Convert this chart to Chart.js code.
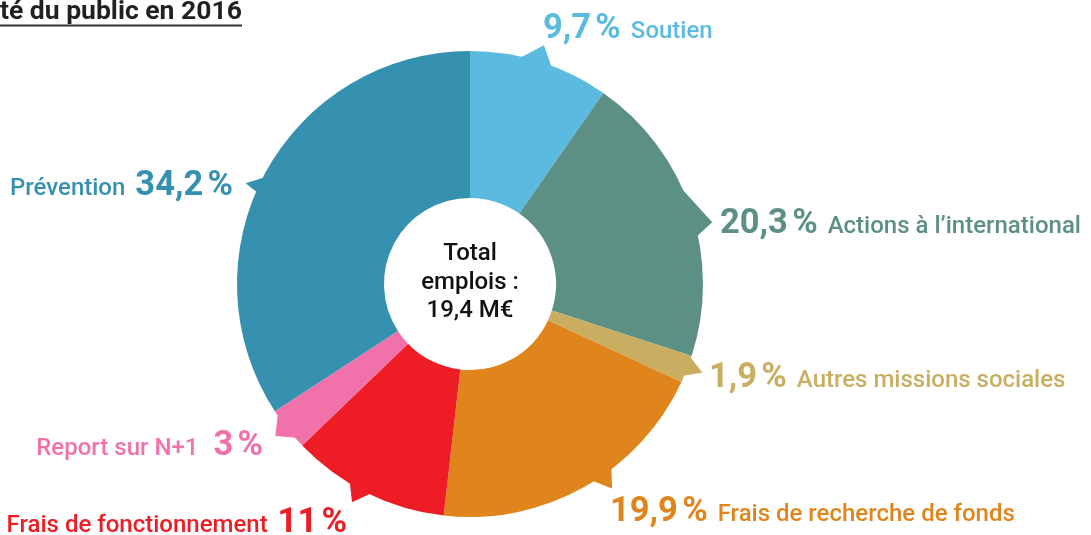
<!DOCTYPE html>
<html>
<head>
<meta charset="utf-8">
<script src="https://cdn.jsdelivr.net/npm/chart.js@4"></script>
<style>
  html, body { margin: 0; padding: 0; background: #ffffff; }
  #wrap { width: 1091px; height: 535px; position: relative; }
</style>
</head>
<body>
<div id="wrap"><canvas id="c" width="1091" height="535"></canvas></div>
<script>
// ---- Data ----
const categories = ['Soutien', 'Actions à l’international', 'Autres missions sociales', 'Frais de recherche de fonds', 'Frais de fonctionnement', 'Report sur N+1', 'Prévention'];
const values = [9.7, 20.3, 1.9, 19.9, 11, 3, 34.2];
const centerLines = ['Total', 'emplois :', '19,4 M€'];
const titleText = 'té du public en 2016';

// ---- Styles / layout (not data) ----
const colors = ['#5bbae0', '#5d9084', '#c9ae62', '#e0841c', '#ee1d25', '#f172aa', '#3690b0'];
// pointer: [baseStartDeg, baseEndDeg, tipDeg, tipLength] clockwise from top
const pointers = [
  [12, 21, 17.2, 17],
  [64, 78.4, 75.7, 17],
  [108, 113.6, 110.9, 16],
  [142.1, 148.5, 145.2, 16],
  [205, 211.6, 208.4, 15],
  [228, 236.5, 232, 14],
  [293.2, 297.8, 294.2, 13]
];
// label anchor: x, baseline y, side ('L' = percent first, left aligned; 'R' = name first, right aligned), gap
const labelLayout = [
  { x: 543, y: 38, side: 'L', gap: 10 },
  { x: 720, y: 233, side: 'L', gap: 10 },
  { x: 709, y: 387, side: 'L', gap: 10 },
  { x: 610, y: 521, side: 'L', gap: 10 },
  { x: 347, y: 532, side: 'R', gap: 10 },
  { x: 263, y: 455, side: 'R', gap: 15 },
  { x: 233, y: 195, side: 'R', gap: 10 }
];

const FONT = 'Roboto, "Liberation Sans", sans-serif';
const NAME_FONT = '500 24px ' + FONT;
const PCT_FONT = 'bold 34.5px ' + FONT;
const fmtPct = v => String(v).replace('.', ',') + '\u202F%';

const pointerPlugin = {
  id: 'pointers',
  beforeDatasetsDraw(chart) {
    const ctx = chart.ctx;
    const arcs = chart.getDatasetMeta(0).data;
    arcs.forEach((arc, i) => {
      const p = pointers[i];
      if (!p) return;
      const R = arc.outerRadius;
      const toRad = d => (d - 90) * Math.PI / 180;
      ctx.save();
      ctx.fillStyle = colors[i];
      ctx.beginPath();
      ctx.moveTo(arc.x + (R - 3) * Math.cos(toRad(p[0])), arc.y + (R - 3) * Math.sin(toRad(p[0])));
      ctx.lineTo(arc.x + (R + p[3]) * Math.cos(toRad(p[2])), arc.y + (R + p[3]) * Math.sin(toRad(p[2])));
      ctx.lineTo(arc.x + (R - 3) * Math.cos(toRad(p[1])), arc.y + (R - 3) * Math.sin(toRad(p[1])));
      ctx.closePath();
      ctx.fill();
      ctx.restore();
    });
  }
};

const textPlugin = {
  id: 'texts',
  afterDraw(chart) {
    const ctx = chart.ctx;
    ctx.save();
    // Title
    ctx.font = 'bold 26.5px ' + FONT;
    ctx.fillStyle = '#231f20';
    ctx.textAlign = 'left';
    ctx.textBaseline = 'alphabetic';
    ctx.fillText(titleText, 0, 19);
    ctx.strokeStyle = '#333333';
    ctx.lineWidth = 2;
    ctx.beginPath();
    ctx.moveTo(0, 25.5);
    ctx.lineTo(242, 25.5);
    ctx.stroke();

    // Center text
    const arc = chart.getDatasetMeta(0).data[0];
    ctx.font = '500 24px ' + FONT;
    ctx.fillStyle = '#111111';
    ctx.textAlign = 'center';
    const lineH = 28.5;
    centerLines.forEach((t, k) => {
      ctx.fillText(t, arc.x, 260 + k * lineH);
    });

    // Slice labels
    categories.forEach((name, i) => {
      const L = labelLayout[i];
      const pct = fmtPct(values[i]);
      ctx.fillStyle = colors[i];
      ctx.textAlign = 'left';
      ctx.font = PCT_FONT;
      const pw = ctx.measureText(pct).width;
      ctx.font = NAME_FONT;
      const nw = ctx.measureText(name).width;
      let px, nx;
      if (L.side === 'L') {
        px = L.x; nx = L.x + pw + L.gap;
      } else {
        px = L.x - pw; nx = px - L.gap - nw;
      }
      ctx.font = PCT_FONT;
      ctx.fillText(pct, px, L.y);
      ctx.font = NAME_FONT;
      ctx.fillText(name, nx, L.y);
    });
    ctx.restore();
  }
};

new Chart(document.getElementById('c'), {
  type: 'doughnut',
  data: {
    labels: categories,
    datasets: [{
      data: values,
      backgroundColor: colors,
      borderWidth: 0,
      hoverOffset: 0
    }]
  },
  options: {
    responsive: false,
    animation: false,
    events: [],
    cutout: 86,
    layout: { padding: { left: 237, right: 388, top: 51, bottom: 18 } },
    plugins: {
      legend: { display: false },
      tooltip: { enabled: false },
      title: { display: false }
    }
  },
  plugins: [pointerPlugin, textPlugin]
});
</script>
</body>
</html>
